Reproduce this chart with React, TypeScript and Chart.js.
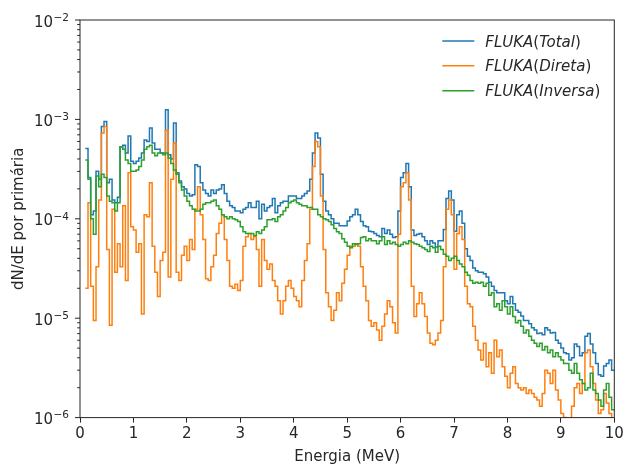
import React, { useEffect, useRef } from 'react';
import { Chart, registerables } from 'chart.js';

Chart.register(...registerables);

// Histogram bins: left edges start at 0.10 MeV, width 0.05 MeV (198 bins up to 10 MeV)
const ENERGY_START = 0.1;
const ENERGY_STEP = 0.05;
const ENERGY_END = 10;

const X_TICKS = [0, 1, 2, 3, 4, 5, 6, 7, 8, 9, 10];
const Y_DECADES = [-6, -5, -4, -3, -2];

const SERIES_LABELS = ['Total', 'Direta', 'Inversa'];

const totalValues = [
  5.1e-4, 2.6e-4, 1.1e-4, 1.2e-4, 3.0e-4, 2.5e-4, 8.5e-4, 9.5e-4, 2.3e-4, 2.5e-4,
  1.55e-4, 1.45e-4, 1.65e-4, 5.3e-4, 5.5e-4, 4.6e-4, 6.8e-4, 3.8e-4, 3.6e-4, 3.8e-4,
  4.1e-4, 4.6e-4, 6.2e-4, 6.0e-4, 8.2e-4, 5.8e-4, 5.0e-4, 5.0e-4, 4.6e-4, 4.6e-4,
  1.25e-3, 4.4e-4, 4.0e-4, 9.2e-4, 2.9e-4, 2.4e-4, 2.1e-4, 2.0e-4, 1.8e-4, 1.7e-4,
  1.75e-4, 3.5e-4, 3.35e-4, 2.3e-4, 1.95e-4, 1.8e-4, 1.7e-4, 1.95e-4, 1.8e-4, 1.95e-4,
  2.0e-4, 2.2e-4, 1.8e-4, 1.5e-4, 1.35e-4, 1.3e-4, 1.2e-4, 1.2e-4, 1.15e-4, 1.25e-4,
  1.3e-4, 1.45e-4, 1.3e-4, 1.3e-4, 1.5e-4, 1.0e-4, 1.4e-4, 1.2e-4, 1.3e-4, 1.35e-4,
  1.6e-4, 1.15e-4, 1.35e-4, 1.45e-4, 1.5e-4, 1.5e-4, 1.7e-4, 1.7e-4, 1.7e-4, 1.6e-4,
  1.6e-4, 1.7e-4, 1.8e-4, 1.9e-4, 2.5e-4, 4.6e-4, 7.3e-4, 6.5e-4, 2.8e-4, 1.5e-4,
  1.2e-4, 1.1e-4, 1.0e-4, 9.0e-5, 9.0e-5, 8.5e-5, 8.5e-5, 8.5e-5, 9.5e-5, 1.05e-4,
  1.1e-4, 1.25e-4, 1.1e-4, 9.4e-5, 8.5e-5, 8.3e-5, 7.5e-5, 7.4e-5, 7.1e-5, 6.8e-5,
  6.6e-5, 8.0e-5, 7.1e-5, 7.7e-5, 7.0e-5, 6.5e-5, 6.6e-5, 1.2e-4, 2.6e-4, 2.9e-4,
  3.6e-4, 2.1e-4, 7.7e-5, 6.8e-5, 7.0e-5, 7.1e-5, 6.6e-5, 6.0e-5, 5.5e-5, 6.0e-5,
  5.7e-5, 5.2e-5, 6.0e-5, 6.0e-5, 7.8e-5, 1.6e-4, 1.9e-4, 1.55e-4, 7.5e-5, 1.1e-4,
  1.2e-4, 9.0e-5, 5.0e-5, 4.2e-5, 3.8e-5, 3.2e-5, 3.0e-5, 2.9e-5, 2.9e-5, 2.8e-5,
  2.6e-5, 2.3e-5, 2.1e-5, 1.9e-5, 1.8e-5, 1.8e-5, 1.8e-5, 1.5e-5, 1.4e-5, 1.65e-5,
  1.4e-5, 1.2e-5, 1.15e-5, 1.05e-5, 9.5e-6, 9.5e-6, 8.8e-6, 8.0e-6, 7.6e-6, 7.0e-6,
  7.1e-6, 6.8e-6, 8.0e-6, 7.6e-6, 7.1e-6, 7.2e-6, 6.0e-6, 5.6e-6, 5.0e-6, 4.5e-6,
  4.4e-6, 3.8e-6, 4.0e-6, 5.5e-6, 5.2e-6, 4.2e-6, 4.5e-6, 6.6e-6, 7.0e-6, 5.5e-6,
  4.5e-6, 3.5e-6, 2.7e-6, 2.6e-6, 3.3e-6, 3.5e-6, 3.8e-6, 3.0e-6,
];

const directValues = [
  2.0e-5, 1.45e-4, 2.1e-5, 9.5e-6, 3.3e-5, 1.55e-4, 7.3e-4, 8.5e-4, 4.9e-5, 8.5e-6,
  1.25e-4, 2.9e-5, 5.6e-5, 3.3e-5, 1.35e-4, 2.4e-5, 2.9e-4, 8.3e-5, 7.7e-5, 4.6e-5,
  5.6e-5, 1.1e-5, 1.1e-4, 1.05e-4, 2.3e-4, 5.3e-5, 2.9e-5, 1.65e-5, 3.8e-5, 4.6e-5,
  7.8e-4, 2.6e-5, 2.5e-4, 5.8e-4, 2.9e-5, 2.4e-5, 4.3e-5, 5.3e-5, 3.8e-5, 6.2e-5,
  4.9e-5, 1.25e-4, 2.1e-4, 1.1e-4, 6.2e-5, 2.5e-5, 2.4e-5, 3.3e-5, 4.3e-5, 7.1e-5,
  9.0e-5, 1.1e-4, 6.2e-5, 3.8e-5, 2.1e-5, 2.0e-5, 2.2e-5, 1.9e-5, 2.4e-5, 5.3e-5,
  6.6e-5, 7.1e-5, 6.2e-5, 6.6e-5, 4.9e-5, 2.1e-5, 6.2e-5, 3.8e-5, 3.1e-5, 3.5e-5,
  2.4e-5, 2.1e-5, 1.5e-5, 1.1e-5, 1.5e-5, 2.1e-5, 2.4e-5, 2.0e-5, 1.65e-5, 1.5e-5,
  1.3e-5, 2.4e-5, 3.8e-5, 5.6e-5, 1.25e-4, 3.35e-4, 6.0e-4, 5.3e-4, 1.7e-4, 4.9e-5,
  1.8e-5, 1.3e-5, 9.5e-6, 1.2e-5, 1.8e-5, 1.5e-5, 2.25e-5, 3.1e-5, 4.3e-5, 5.3e-5,
  5.3e-5, 5.6e-5, 5.3e-5, 3.3e-5, 2.1e-5, 1.5e-5, 9.5e-6, 8.3e-6, 9.0e-6, 7.6e-6,
  6.0e-6, 8.3e-6, 1.1e-5, 1.5e-5, 1.3e-5, 9.0e-6, 7.1e-6, 7.0e-5, 2.1e-4, 2.3e-4,
  2.9e-4, 1.55e-4, 2.1e-5, 1.04e-5, 1.4e-5, 1.8e-5, 1.4e-5, 1.04e-5, 7.1e-6, 5.6e-6,
  5.4e-6, 6.0e-6, 7.1e-6, 9.5e-6, 3.3e-5, 1.25e-4, 1.55e-4, 1.1e-4, 3.1e-5, 7.1e-5,
  8.3e-5, 6.2e-5, 2.1e-5, 1.4e-5, 1.3e-5, 8.3e-6, 6.0e-6, 4.8e-6, 3.8e-6, 5.6e-6,
  3.25e-6, 4.5e-6, 2.8e-6, 6.0e-6, 4.1e-6, 4.8e-6, 3.25e-6, 2.6e-6, 2.0e-6, 2.8e-6,
  3.25e-6, 2.2e-6, 2.0e-6, 1.9e-6, 2.0e-6, 1.75e-6, 1.9e-6, 1.75e-6, 1.6e-6, 1.5e-6,
  1.3e-6, 1.75e-6, 3.0e-6, 2.8e-6, 2.2e-6, 3.0e-6, 1.9e-6, 1.5e-6, 1.1e-6, 1.0e-6,
  9.0e-7, 8.5e-7, 1.3e-6, 2.0e-6, 2.2e-6, 1.75e-6, 2.2e-6, 4.5e-6, 4.8e-6, 3.25e-6,
  2.2e-6, 1.5e-6, 1.1e-6, 1.2e-6, 1.75e-6, 1.4e-6, 1.1e-6, 9.0e-7,
];

const inverseValues = [
  3.9e-4, 2.5e-4, 1.0e-4, 7.0e-5, 2.7e-4, 2.1e-4, 2.8e-4, 2.6e-4, 1.7e-4, 1.5e-4,
  1.45e-4, 1.2e-4, 1.45e-4, 5.3e-4, 5.0e-4, 3.9e-4, 3.6e-4, 3.0e-4, 3.0e-4, 3.1e-4,
  3.35e-4, 3.9e-4, 5.0e-4, 5.3e-4, 5.5e-4, 4.6e-4, 4.3e-4, 4.6e-4, 4.6e-4, 4.4e-4,
  4.6e-4, 4.1e-4, 3.6e-4, 3.1e-4, 2.8e-4, 2.3e-4, 1.95e-4, 1.7e-4, 1.5e-4, 1.35e-4,
  1.25e-4, 1.2e-4, 1.2e-4, 1.25e-4, 1.4e-4, 1.45e-4, 1.45e-4, 1.5e-4, 1.55e-4, 1.35e-4,
  1.25e-4, 1.1e-4, 1.05e-4, 1.0e-4, 1.05e-4, 1.0e-4, 9.8e-5, 9.4e-5, 8.3e-5, 7.4e-5,
  7.1e-5, 7.1e-5, 7.1e-5, 6.8e-5, 7.4e-5, 7.1e-5, 7.7e-5, 8.3e-5, 9.8e-5, 9.8e-5,
  1.0e-4, 9.4e-5, 1.05e-4, 1.1e-4, 1.2e-4, 1.3e-4, 1.45e-4, 1.5e-4, 1.55e-4, 1.45e-4,
  1.4e-4, 1.35e-4, 1.35e-4, 1.3e-4, 1.3e-4, 1.25e-4, 1.25e-4, 1.1e-4, 1.05e-4, 1.0e-4,
  9.8e-5, 9.4e-5, 8.7e-5, 8.0e-5, 7.4e-5, 7.1e-5, 6.3e-5, 5.8e-5, 5.3e-5, 5.1e-5,
  5.6e-5, 5.5e-5, 5.6e-5, 6.5e-5, 6.6e-5, 6.0e-5, 6.3e-5, 6.0e-5, 6.0e-5, 5.6e-5,
  6.0e-5, 6.6e-5, 5.5e-5, 6.0e-5, 5.6e-5, 5.8e-5, 5.5e-5, 5.3e-5, 5.5e-5, 5.8e-5,
  5.6e-5, 6.0e-5, 5.8e-5, 5.6e-5, 5.5e-5, 5.3e-5, 5.1e-5, 4.9e-5, 4.7e-5, 5.3e-5,
  5.1e-5, 4.6e-5, 5.3e-5, 4.9e-5, 4.4e-5, 4.2e-5, 3.8e-5, 4.0e-5, 4.2e-5, 3.8e-5,
  3.5e-5, 3.3e-5, 2.9e-5, 2.7e-5, 2.4e-5, 2.25e-5, 2.3e-5, 2.25e-5, 2.3e-5, 2.1e-5,
  2.25e-5, 1.7e-5, 1.8e-5, 1.3e-5, 1.4e-5, 1.2e-5, 1.5e-5, 1.3e-5, 1.1e-5, 1.3e-5,
  1.04e-5, 9.0e-6, 9.5e-6, 8.3e-6, 7.1e-6, 7.6e-6, 6.6e-6, 6.0e-6, 5.6e-6, 5.2e-6,
  5.6e-6, 4.8e-6, 5.2e-6, 4.5e-6, 4.8e-6, 4.1e-6, 4.5e-6, 4.1e-6, 3.8e-6, 3.5e-6,
  3.5e-6, 3.0e-6, 2.8e-6, 3.5e-6, 2.8e-6, 2.4e-6, 2.2e-6, 1.9e-6, 2.0e-6, 2.8e-6,
  1.9e-6, 1.75e-6, 1.5e-6, 1.3e-6, 1.9e-6, 2.2e-6, 1.6e-6, 1.2e-6,
];

const COLORS = ['#1f77b4', '#ff7f0e', '#2ca02c'];
const FONT = '"DejaVu Sans", "Liberation Sans", sans-serif';
const INK = '#262626';

function toSteps(values: number[]) {
  const pts = values.map((v, i) => ({ x: +(ENERGY_START + i * ENERGY_STEP).toFixed(2), y: v }));
  pts.push({ x: ENERGY_END, y: values[values.length - 1] });
  return pts;
}

const mplPlugin = {
  id: 'mplDecor',
  afterDraw(chart: any) {
    const { ctx, chartArea: a, scales } = chart;
    const ys = scales.y;
    ctx.save();
    ctx.strokeStyle = INK;
    ctx.fillStyle = INK;
    ctx.lineWidth = 1;

    // frame
    ctx.strokeRect(a.left, a.top, a.right - a.left, a.bottom - a.top);

    // y ticks (major + minor) and labels 10^n
    for (const n of Y_DECADES) {
      const py = ys.getPixelForValue(Math.pow(10, n));
      ctx.beginPath();
      ctx.moveTo(a.left - 5, py);
      ctx.lineTo(a.left, py);
      ctx.stroke();
      if (n < Y_DECADES[Y_DECADES.length - 1]) {
        for (let m = 2; m <= 9; m++) {
          const pm = ys.getPixelForValue(m * Math.pow(10, n));
          ctx.beginPath();
          ctx.moveTo(a.left - 2.8, pm);
          ctx.lineTo(a.left, pm);
          ctx.stroke();
        }
      }
      const exp = '\u2212' + String(-n);
      ctx.font = '10.5px ' + FONT;
      const we = ctx.measureText(exp).width;
      const xr = a.left - 11;
      ctx.textAlign = 'left';
      ctx.textBaseline = 'alphabetic';
      ctx.fillText(exp, xr - we, py + 0.8);
      ctx.font = '15px ' + FONT;
      ctx.textAlign = 'right';
      ctx.fillText('10', xr - we - 0.5, py + 6.5);
    }

    // axis titles
    ctx.font = '15px ' + FONT;
    ctx.textAlign = 'center';
    ctx.textBaseline = 'alphabetic';
    ctx.fillText('Energia (MeV)', (a.left + a.right) / 2, 461);
    ctx.save();
    ctx.translate(22.5, (a.top + a.bottom) / 2);
    ctx.rotate(-Math.PI / 2);
    ctx.fillText('dN/dE por primária', 0, 0);
    ctx.restore();

    // legend (mathtext-like: italic letters, upright parentheses)
    const rowsY = [a.top + 21, a.top + 45.7, a.top + 70.7];
    SERIES_LABELS.forEach((lab, i) => {
      const y = rowsY[i];
      ctx.strokeStyle = COLORS[i];
      ctx.lineWidth = 1.5;
      ctx.beginPath();
      ctx.moveTo(a.right - 172, y);
      ctx.lineTo(a.right - 140, y);
      ctx.stroke();
      const parts: [string, boolean][] = [['FLUKA', true], ['(', false], [lab, true], [')', false]];
      let x = a.right - 129;
      ctx.fillStyle = INK;
      ctx.textAlign = 'left';
      for (const [t, it] of parts) {
        ctx.font = (it ? 'italic ' : '') + '15px ' + FONT;
        ctx.fillText(t, x, y + 5.5);
        x += ctx.measureText(t).width;
      }
    });
    ctx.restore();
  },
};

export default function App() {
  const ref = useRef<HTMLCanvasElement>(null);
  useEffect(() => {
    if (!ref.current) return;
    const chart = new Chart(ref.current, {
      type: 'line',
      data: {
        datasets: [
          { label: 'FLUKA(Total)', data: toSteps(totalValues), borderColor: COLORS[0], order: 3 },
          { label: 'FLUKA(Direta)', data: toSteps(directValues), borderColor: COLORS[1], order: 2 },
          { label: 'FLUKA(Inversa)', data: toSteps(inverseValues), borderColor: COLORS[2], order: 1 },
        ].map((d) => ({
          ...d,
          stepped: 'before' as const,
          borderWidth: 1.5,
          pointRadius: 0,
          fill: false,
          tension: 0,
        })),
      },
      options: {
        animation: false,
        responsive: false,
        parsing: false as any,
        normalized: true,
        layout: { padding: { top: 20, right: 8.7, left: 0, bottom: 0 } },
        plugins: { legend: { display: false }, tooltip: { enabled: false } },
        scales: {
          x: {
            type: 'linear',
            min: 0,
            max: 10,
            afterBuildTicks: (s: any) => {
              s.ticks = X_TICKS.map((v) => ({ value: v }));
            },
            afterFit: (s: any) => {
              s.height = 46.4;
              s.paddingLeft = 0;
              s.paddingRight = 0;
            },
            ticks: {
              color: INK,
              font: { family: FONT, size: 15 },
              padding: 3,
              maxRotation: 0,
              autoSkip: false,
              callback: (v: any) => String(v),
            },
            grid: { drawOnChartArea: false, drawTicks: true, tickLength: 5, color: INK, lineWidth: 1 },
            border: { display: false },
          },
          y: {
            type: 'logarithmic',
            min: 1e-6,
            max: 1e-2,
            afterFit: (s: any) => {
              s.width = 80;
              s.paddingTop = 0;
              s.paddingBottom = 0;
            },
            ticks: { display: false },
            grid: { display: false },
            border: { display: false },
          },
        },
      },
      plugins: [mplPlugin],
    });
    return () => chart.destroy();
  }, []);
  return (
    <div style={{ position: 'absolute', left: 0, top: 0, width: 623, height: 464, background: '#fff' }}>
      <canvas ref={ref} width={623} height={464} style={{ display: 'block' }} />
    </div>
  );
}
